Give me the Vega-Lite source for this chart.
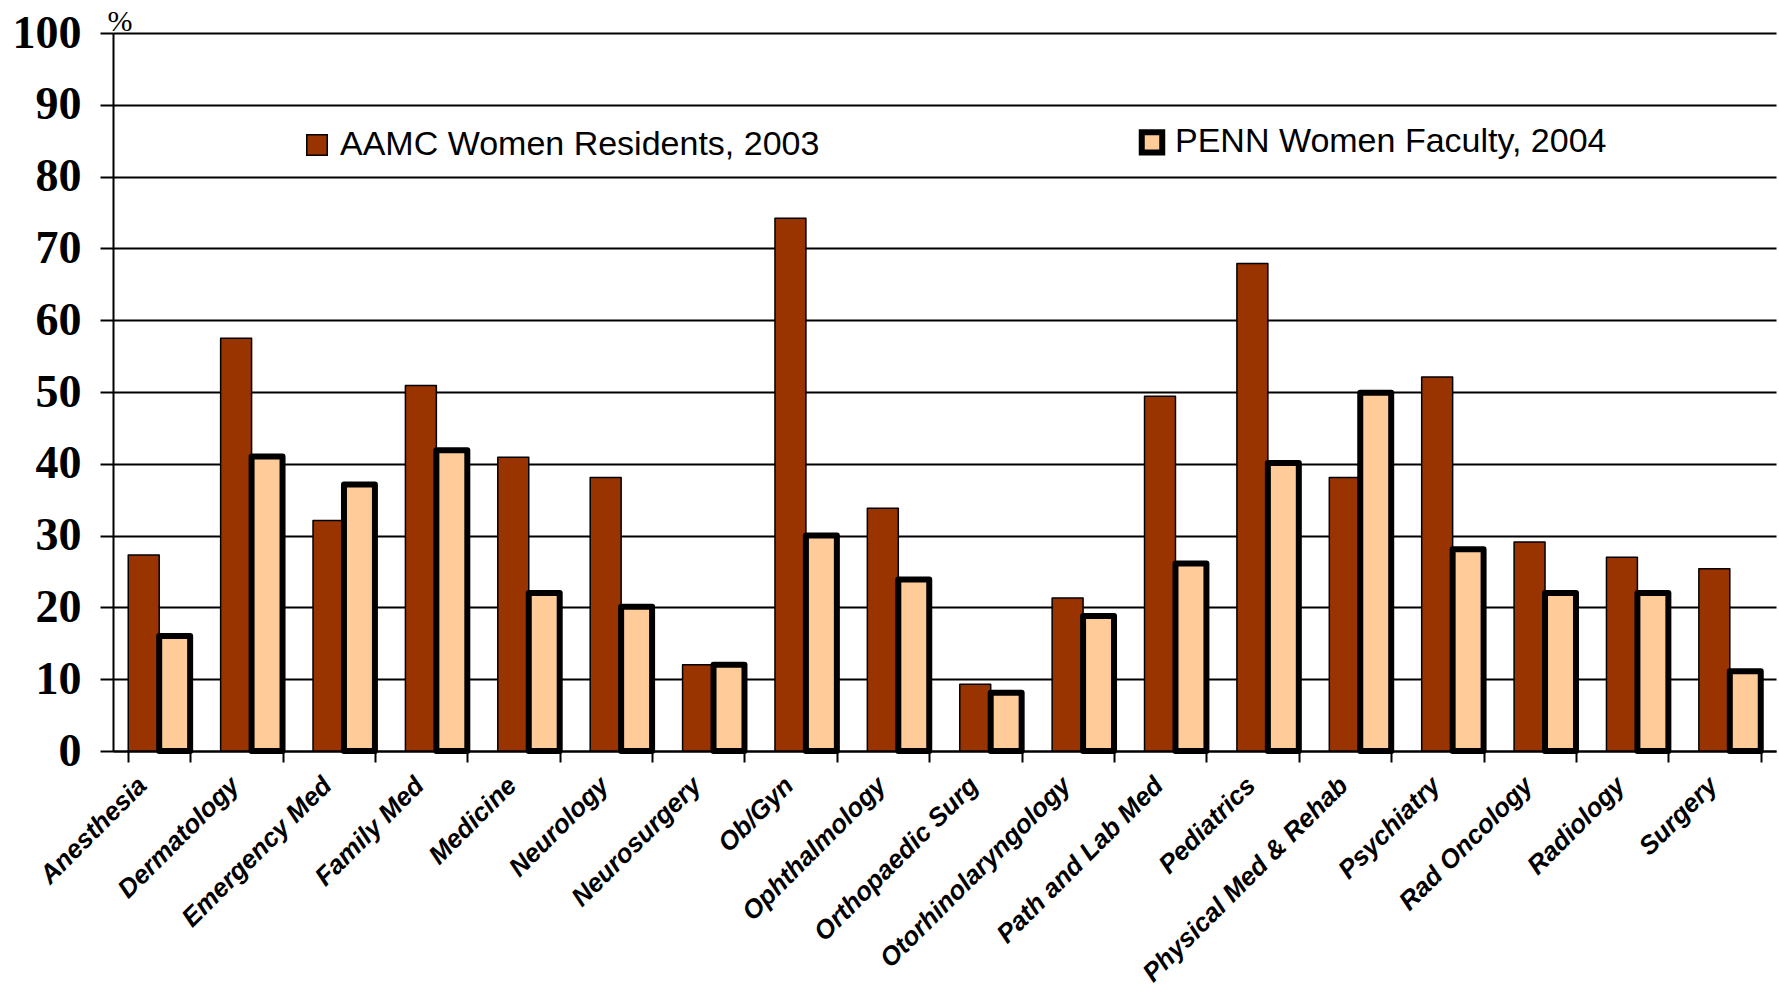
{
  "$schema": "https://vega.github.io/schema/vega-lite/v6.json",
  "width": 1663,
  "height": 718,
  "autosize": {"type": "none"},
  "padding": {"left": 113, "top": 33, "right": 3, "bottom": 245},
  "background": "white",
  "data": {
    "values": [
      {"specialty": "Anesthesia", "series": "AAMC Women Residents, 2003", "value": 27.3},
      {"specialty": "Dermatology", "series": "AAMC Women Residents, 2003", "value": 57.5},
      {"specialty": "Emergency Med", "series": "AAMC Women Residents, 2003", "value": 32.1},
      {"specialty": "Family Med", "series": "AAMC Women Residents, 2003", "value": 50.9},
      {"specialty": "Medicine", "series": "AAMC Women Residents, 2003", "value": 40.9},
      {"specialty": "Neurology", "series": "AAMC Women Residents, 2003", "value": 38.1},
      {"specialty": "Neurosurgery", "series": "AAMC Women Residents, 2003", "value": 12.0},
      {"specialty": "Ob/Gyn", "series": "AAMC Women Residents, 2003", "value": 74.2},
      {"specialty": "Ophthalmology", "series": "AAMC Women Residents, 2003", "value": 33.8},
      {"specialty": "Orthopaedic Surg", "series": "AAMC Women Residents, 2003", "value": 9.3},
      {"specialty": "Otorhinolaryngology", "series": "AAMC Women Residents, 2003", "value": 21.3},
      {"specialty": "Path and Lab Med", "series": "AAMC Women Residents, 2003", "value": 49.4},
      {"specialty": "Pediatrics", "series": "AAMC Women Residents, 2003", "value": 67.9},
      {"specialty": "Physical Med & Rehab", "series": "AAMC Women Residents, 2003", "value": 38.1},
      {"specialty": "Psychiatry", "series": "AAMC Women Residents, 2003", "value": 52.1},
      {"specialty": "Rad Oncology", "series": "AAMC Women Residents, 2003", "value": 29.1},
      {"specialty": "Radiology", "series": "AAMC Women Residents, 2003", "value": 27.0},
      {"specialty": "Surgery", "series": "AAMC Women Residents, 2003", "value": 25.4},
      {"specialty": "Anesthesia", "series": "PENN Women Faculty, 2004", "value": 16.0},
      {"specialty": "Dermatology", "series": "PENN Women Faculty, 2004", "value": 41.0},
      {"specialty": "Emergency Med", "series": "PENN Women Faculty, 2004", "value": 37.1},
      {"specialty": "Family Med", "series": "PENN Women Faculty, 2004", "value": 41.9},
      {"specialty": "Medicine", "series": "PENN Women Faculty, 2004", "value": 22.0},
      {"specialty": "Neurology", "series": "PENN Women Faculty, 2004", "value": 20.1},
      {"specialty": "Neurosurgery", "series": "PENN Women Faculty, 2004", "value": 12.0},
      {"specialty": "Ob/Gyn", "series": "PENN Women Faculty, 2004", "value": 30.0},
      {"specialty": "Ophthalmology", "series": "PENN Women Faculty, 2004", "value": 23.9},
      {"specialty": "Orthopaedic Surg", "series": "PENN Women Faculty, 2004", "value": 8.1},
      {"specialty": "Otorhinolaryngology", "series": "PENN Women Faculty, 2004", "value": 18.8},
      {"specialty": "Path and Lab Med", "series": "PENN Women Faculty, 2004", "value": 26.1},
      {"specialty": "Pediatrics", "series": "PENN Women Faculty, 2004", "value": 40.1},
      {"specialty": "Physical Med & Rehab", "series": "PENN Women Faculty, 2004", "value": 49.9},
      {"specialty": "Psychiatry", "series": "PENN Women Faculty, 2004", "value": 28.1},
      {"specialty": "Rad Oncology", "series": "PENN Women Faculty, 2004", "value": 22.0},
      {"specialty": "Radiology", "series": "PENN Women Faculty, 2004", "value": 22.0},
      {"specialty": "Surgery", "series": "PENN Women Faculty, 2004", "value": 11.1}
    ]
  },
  "mark": {"type": "bar", "stroke": "black", "strokeJoin": "round", "strokeOpacity": 1},
  "encoding": {
    "x": {
      "field": "specialty",
      "type": "nominal",
      "sort": null,
      "scale": {"paddingInner": 0.33, "paddingOuter": 0.165},
      "axis": {
        "title": null,
        "labelAngle": -45,
        "labelAlign": "right",
        "labelBaseline": "middle",
        "labelFont": "Liberation Sans",
        "labelFontSize": 26,
        "labelFontWeight": "bold",
        "labelFontStyle": "italic",
        "labelColor": "black",
        "labelPadding": 19,
        "labelOffset": -17,
        "labelOverlap": false,
        "labelBound": false,
        "labelLimit": 500,
        "tickBand": "extent",
        "tickSize": 11,
        "tickColor": "black",
        "tickWidth": 2,
        "domainColor": "black",
        "domainWidth": 2,
        "grid": false
      }
    },
    "xOffset": {
      "field": "series",
      "type": "nominal",
      "sort": ["AAMC Women Residents, 2003", "PENN Women Faculty, 2004"],
      "scale": {"paddingInner": 0, "paddingOuter": 0}
    },
    "y": {
      "field": "value",
      "type": "quantitative",
      "scale": {"domain": [0, 100], "nice": false},
      "axis": {
        "values": [0, 10, 20, 30, 40, 50, 60, 70, 80, 90, 100],
        "title": "%",
        "titleAngle": 0,
        "titleX": -6,
        "titleY": -3,
        "titleAlign": "left",
        "titleBaseline": "alphabetic",
        "titleFont": "Liberation Serif",
        "titleFontSize": 30,
        "titleFontWeight": "normal",
        "titleColor": "black",
        "labelFont": "Liberation Serif",
        "labelFontSize": 46,
        "labelFontWeight": "bold",
        "labelColor": "black",
        "labelPadding": 19,
        "tickSize": 13,
        "tickColor": "black",
        "tickWidth": 2,
        "domainColor": "black",
        "domainWidth": 2,
        "grid": true,
        "gridColor": "black",
        "gridWidth": 2,
        "gridOpacity": 1
      }
    },
    "color": {
      "field": "series",
      "type": "nominal",
      "scale": {"domain": ["AAMC Women Residents, 2003", "PENN Women Faculty, 2004"], "range": ["#993300", "#FFCC99"]},
      "legend": {
        "title": null,
        "orient": "none",
        "legendX": 187,
        "legendY": 92,
        "direction": "horizontal",
        "columnPadding": 309,
        "symbolType": "square",
        "symbolSize": 420,
        "symbolStrokeColor": "black",
        "symbolOpacity": 1,
        "labelFont": "Liberation Sans",
        "labelFontSize": 34,
        "labelColor": "black",
        "labelOffset": 6,
        "labelLimit": 800,
        "encode": {"symbols": {"update": {"stroke": {"value": "black"}, "strokeOpacity": {"value": 1}}}}
      }
    },
    "strokeWidth": {
      "field": "series",
      "type": "nominal",
      "scale": {"domain": ["AAMC Women Residents, 2003", "PENN Women Faculty, 2004"], "range": [1.5, 6]},
      "legend": {
        "title": null,
        "orient": "none",
        "legendX": 187,
        "legendY": 92,
        "direction": "horizontal",
        "columnPadding": 309,
        "symbolType": "square",
        "symbolSize": 420,
        "symbolStrokeColor": "black",
        "symbolOpacity": 1,
        "labelFont": "Liberation Sans",
        "labelFontSize": 34,
        "labelColor": "black",
        "labelOffset": 6,
        "labelLimit": 800,
        "encode": {"symbols": {"update": {"stroke": {"value": "black"}, "strokeOpacity": {"value": 1}}}}
      }
    }
  },
  "config": {"view": {"stroke": null}}
}
